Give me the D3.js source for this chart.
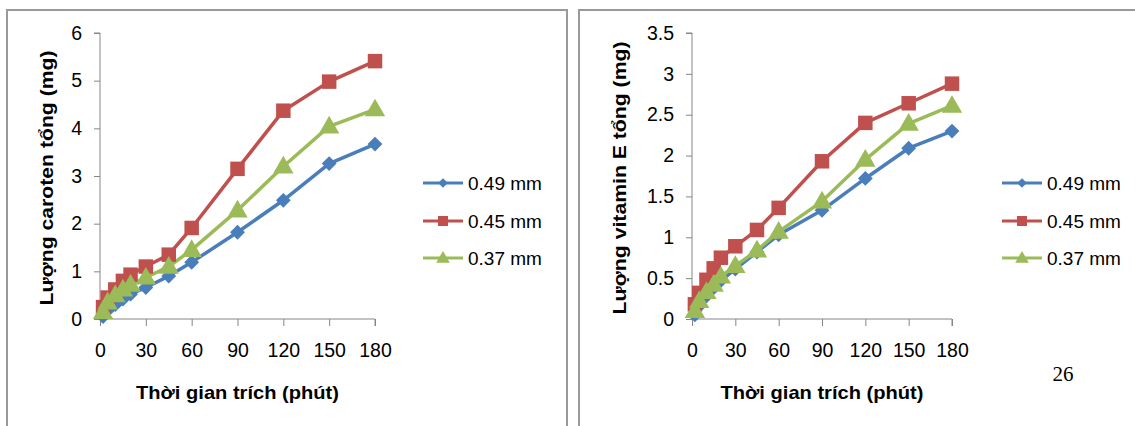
<!DOCTYPE html>
<html>
<head>
<meta charset="utf-8">
<script src="https://cdn.jsdelivr.net/npm/d3@7"></script>
<style>
  body { margin: 0; background: #fff; }
  text { font-family: "Liberation Sans", Arial, sans-serif; fill: #000; }
</style>
</head>
<body>
<div class="chart"></div>
<script>
// Data
var times = [2, 5, 10, 15, 20, 30, 45, 60, 90, 120, 150, 180];
var seriesNames = ["0.49 mm", "0.45 mm", "0.37 mm"];

// carotene (mg)
var carotene049 = [0.05, 0.18, 0.30, 0.42, 0.52, 0.66, 0.90, 1.19, 1.82, 2.49, 3.26, 3.67];
var carotene045 = [0.25, 0.45, 0.62, 0.80, 0.93, 1.10, 1.35, 1.91, 3.15, 4.37, 4.98, 5.41];
var carotene037 = [0.15, 0.35, 0.50, 0.62, 0.72, 0.87, 1.10, 1.45, 2.28, 3.20, 4.04, 4.40];

// vitamin E (mg)
var vitE049 = [0.05, 0.16, 0.28, 0.38, 0.47, 0.61, 0.82, 1.03, 1.33, 1.72, 2.09, 2.30];
var vitE045 = [0.18, 0.32, 0.48, 0.62, 0.75, 0.89, 1.09, 1.36, 1.93, 2.40, 2.64, 2.88];
var vitE037 = [0.10, 0.22, 0.33, 0.42, 0.52, 0.65, 0.84, 1.07, 1.44, 1.95, 2.39, 2.61];

var xTicks = [0, 30, 60, 90, 120, 150, 180];
var caroteneTicks = [0, 1, 2, 3, 4, 5, 6];
var vitETicks = [0, 0.5, 1, 1.5, 2, 2.5, 3, 3.5];

var colors = ["#4A7EBB", "#C0504D", "#9BBB59"];
var shapes = ["diamond", "square", "triangle"];

var svgWidth = 1135;
var svgHeight = 426;

var svg = d3.select(".chart")
  .append("svg")
  .attr("width", svgWidth)
  .attr("height", svgHeight);

// panel frames
svg.append("rect")
  .attr("x", 7).attr("y", 10)
  .attr("width", 560).attr("height", 430)
  .attr("fill", "none").attr("stroke", "#9a9a9a").attr("stroke-width", 2);
svg.append("rect")
  .attr("x", 579).attr("y", 10)
  .attr("width", 600).attr("height", 430)
  .attr("fill", "none").attr("stroke", "#9a9a9a").attr("stroke-width", 2);

function markerPath(shape, size) {
  if (shape === "diamond") return d3.symbol(d3.symbolDiamond2, size)();
  if (shape === "square") {
    var h = Math.sqrt(size) / 2;
    return `M${-h},${-h}H${h}V${h}H${-h}Z`;
  }
  var s = Math.sqrt(size * 4 / Math.sqrt(3));
  var ht = s * Math.sqrt(3) / 2;
  return `M0,${-ht * 0.6}L${s / 2},${ht * 0.4}L${-s / 2},${ht * 0.4}Z`;
}
var markerSize = { diamond: 140, square: 210, triangle: 180 };
var legendSize = { diamond: 60, square: 100, triangle: 80 };

function drawChart(opt) {
  var x = d3.scaleLinear().domain([0, 180]).range([opt.x0, opt.x1]);
  var y = d3.scaleLinear().domain([0, opt.yMax]).range([319, 33]);

  var g = svg.append("g");

  // y axis
  var yAxis = g.append("g")
    .attr("transform", `translate(${opt.x0}, 0)`)
    .call(d3.axisLeft(y).tickValues(opt.yTicks).tickSize(6).tickPadding(12)
      .tickFormat(d3.format("")));
  yAxis.selectAll("path, line").attr("stroke", "#868686");
  yAxis.select(".domain").attr("d", `M-6,${y(opt.yMax)}H0V${y(0)}`);
  yAxis.selectAll("text").style("font-size", "19.5px").style("font-family", "Liberation Sans, Arial");

  // x axis
  var xAxis = g.append("g")
    .attr("transform", `translate(0, 319)`)
    .call(d3.axisBottom(x).tickValues(xTicks).tickSize(7).tickPadding(17));
  xAxis.selectAll("path, line").attr("stroke", "#868686");
  xAxis.select(".domain").attr("d", `M${opt.x0 - 2},0H${opt.x1}V7`);
  xAxis.selectAll("text").style("font-size", "19.5px").style("font-family", "Liberation Sans, Arial");

  // lines
  var line = d3.line()
    .x((d, i) => x(times[i]))
    .y(d => y(d));

  opt.series.forEach(function(vals, k) {
    g.append("path")
      .datum(vals)
      .attr("d", line)
      .attr("fill", "none")
      .attr("stroke", colors[k])
      .attr("stroke-width", 3.5)
      .attr("stroke-linejoin", "round");
  });
  opt.series.forEach(function(vals, k) {
    g.selectAll(".m" + k)
      .data(vals)
      .enter()
      .append("path")
      .attr("class", "m" + k)
      .attr("transform", (d, i) => `translate(${x(times[i])}, ${y(d)})`)
      .attr("d", markerPath(shapes[k], markerSize[shapes[k]]))
      .attr("fill", colors[k]);
  });

  // axis titles
  g.append("text")
    .attr("x", (opt.x0 + opt.x1) / 2)
    .attr("y", 399)
    .attr("text-anchor", "middle")
    .style("font-size", "19px")
    .style("font-weight", "bold")
    .attr("textLength", 203)
    .attr("lengthAdjust", "spacingAndGlyphs")
    .text("Thời gian trích (phút)");

  g.append("text")
    .attr("transform", `translate(${opt.titleX}, ${opt.titleY}) rotate(-90)`)
    .attr("text-anchor", "middle")
    .style("font-size", "18px")
    .style("font-weight", "bold")
    .attr("textLength", opt.titleLen)
    .attr("lengthAdjust", "spacingAndGlyphs")
    .text(opt.yTitle);

  // legend
  var legend = g.append("g").attr("transform", `translate(${opt.legendX}, 0)`);
  var legendY = [183, 221, 258];
  seriesNames.forEach(function(name, k) {
    var row = legend.append("g").attr("transform", `translate(0, ${legendY[k]})`);
    row.append("line")
      .attr("x1", 0).attr("x2", 40)
      .attr("stroke", colors[k]).attr("stroke-width", 3);
    row.append("path")
      .attr("transform", "translate(20, 0)")
      .attr("d", markerPath(shapes[k], legendSize[shapes[k]]))
      .attr("fill", colors[k]);
    row.append("text")
      .attr("x", 45)
      .attr("y", 7)
      .style("font-size", "19px")
      .text(name);
  });
}

drawChart({
  x0: 100, x1: 375, yMax: 6, yTicks: caroteneTicks,
  series: [carotene049, carotene045, carotene037],
  yTitle: "Lượng caroten tổng (mg)", titleX: 53, titleY: 178, titleLen: 255,
  legendX: 423
});

drawChart({
  x0: 692, x1: 952, yMax: 3.5, yTicks: vitETicks,
  series: [vitE049, vitE045, vitE037],
  yTitle: "Lượng vitamin E tổng (mg)", titleX: 626, titleY: 178, titleLen: 273,
  legendX: 1002
});

// page number
svg.append("text")
  .attr("x", 1063)
  .attr("y", 381)
  .attr("text-anchor", "middle")
  .style("font-family", "Liberation Serif, Times New Roman, serif")
  .style("font-size", "21px")
  .text("26");
</script>
</body>
</html>
